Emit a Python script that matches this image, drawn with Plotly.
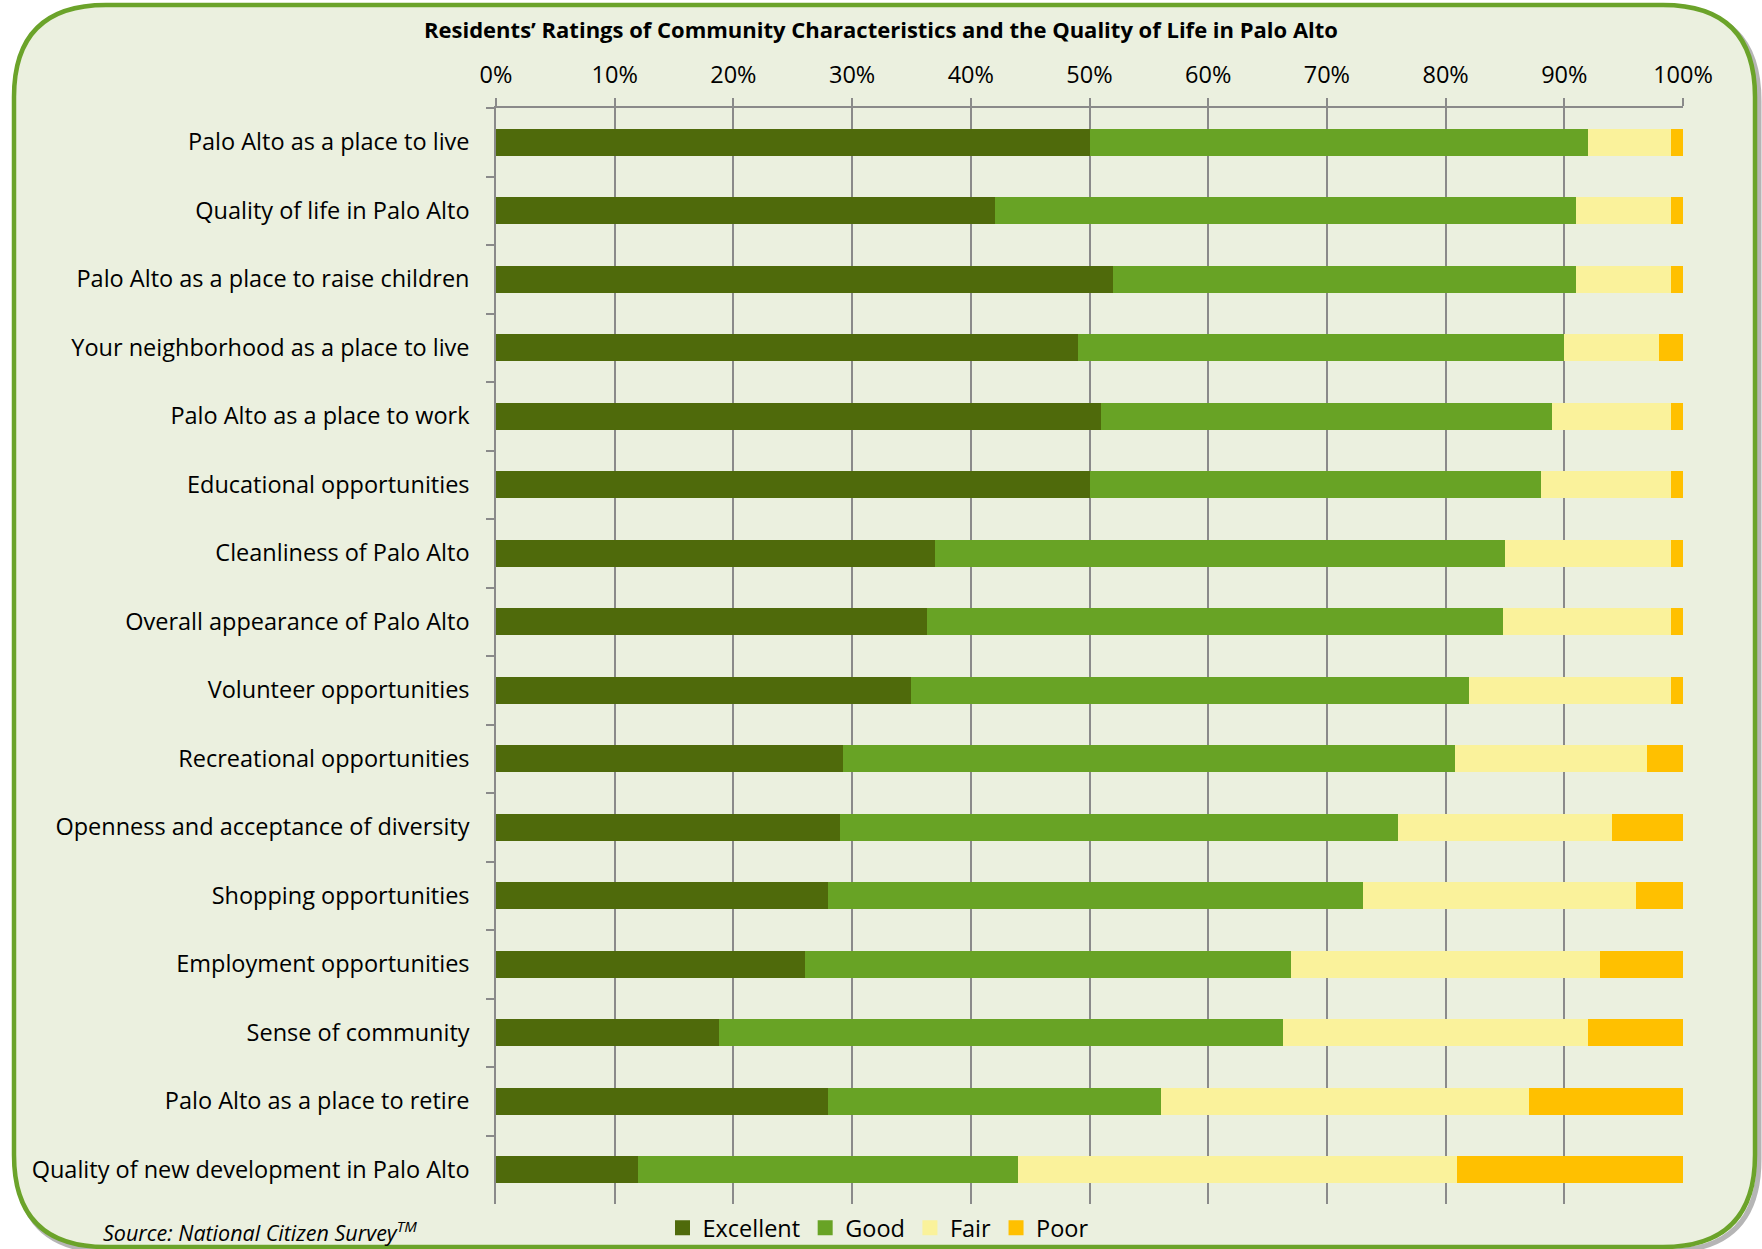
import plotly.graph_objects as go

categories = [
    "Palo Alto as a place to live",
    "Quality of life in Palo Alto",
    "Palo Alto as a place to raise children",
    "Your neighborhood as a place to live",
    "Palo Alto as a place to work",
    "Educational opportunities",
    "Cleanliness of Palo Alto",
    "Overall appearance of Palo Alto",
    "Volunteer opportunities",
    "Recreational opportunities",
    "Openness and acceptance of diversity",
    "Shopping opportunities",
    "Employment opportunities",
    "Sense of community",
    "Palo Alto as a place to retire",
    "Quality of new development in Palo Alto",
]
excellent = [50, 42, 52, 49, 51, 50, 37, 36.3, 35, 29.2, 29, 28, 26, 18.8, 28, 12]
good = [42, 49, 39, 41, 38, 38, 48, 48.5, 47, 51.6, 47, 45, 41, 47.5, 28, 32]
fair = [7, 8, 8, 8, 10, 11, 14, 14.2, 17, 16.2, 18, 23, 26, 25.7, 31, 37]
poor = [1, 1, 1, 2, 1, 1, 1, 1, 1, 3, 6, 4, 7, 8, 13, 19]
series_names = ["Excellent", "Good", "Fair", "Poor"]
series_colors = ["#4F6A0B", "#68A325", "#FAF29B", "#FFC000"]
x_ticks = list(range(0, 101, 10))
x_ticklabels = [f"{t}%" for t in x_ticks]

W, H = 1762, 1249
ML, MR, MT, MB = 496, 79, 108, 45
PW, PH = W - ML - MR, H - MT - MB

def px(x):
    return (x - ML) / PW

def py(y):
    return 1 - (y - MT) / PH

def rounded_path(x0, y0, x1, y1, r):
    pts = []
    pts.append(f"M {px(x0 + r)} {py(y0)}")
    pts.append(f"L {px(x1 - r)} {py(y0)}")
    pts.append(f"Q {px(x1)} {py(y0)} {px(x1)} {py(y0 + r)}")
    pts.append(f"L {px(x1)} {py(y1 - r)}")
    pts.append(f"Q {px(x1)} {py(y1)} {px(x1 - r)} {py(y1)}")
    pts.append(f"L {px(x0 + r)} {py(y1)}")
    pts.append(f"Q {px(x0)} {py(y1)} {px(x0)} {py(y1 - r)}")
    pts.append(f"L {px(x0)} {py(y0 + r)}")
    pts.append(f"Q {px(x0)} {py(y0)} {px(x0 + r)} {py(y0)}")
    pts.append("Z")
    return " ".join(pts)

fig = go.Figure()
for name, vals, col in zip(series_names, [excellent, good, fair, poor], series_colors):
    fig.add_trace(go.Bar(
        y=categories, x=vals, name=name, orientation="h",
        marker=dict(color=col, line=dict(width=0)),
        hoverinfo="x+y+name", legendgroup=name, showlegend=False,
    ))
# legend entries with larger square swatches
for name, col in zip(series_names, series_colors):
    fig.add_trace(go.Scatter(
        x=[None], y=[None], mode="markers", name=name, legendgroup=name,
        marker=dict(symbol="square", size=15, color=col, line=dict(width=0)),
        showlegend=True, hoverinfo="skip",
    ))

font_family = "Open Sans"
fig.update_layout(
    width=W, height=H,
    margin=dict(l=ML, r=MR, t=MT, b=MB, pad=0, autoexpand=False),
    barmode="stack", bargap=0.606,
    paper_bgcolor="white", plot_bgcolor="rgba(0,0,0,0)",
    font=dict(family=font_family, color="#000000"),
    title=dict(
        text="<b>Residents’ Ratings of Community Characteristics and the Quality of Life in Palo Alto</b>",
        x=0.5, xref="container", xanchor="center",
        y=1 - 30 / H, yref="container", yanchor="middle",
        font=dict(size=22, family=font_family, color="#000000"),
    ),
    xaxis=dict(
        side="top", range=[0, 100], tickvals=x_ticks, ticktext=x_ticklabels,
        showgrid=True, gridcolor="#8A8A8A", gridwidth=1.5,
        showline=True, linecolor="#8A8A8A", linewidth=1.5,
        ticks="outside", ticklen=8, tickcolor="#8A8A8A", tickwidth=1.5,
        tickfont=dict(size=23.5, family=font_family, color="#000000"),
        ticklabelstandoff=6, zeroline=False, fixedrange=True,
    ),
    yaxis=dict(
        autorange="reversed", categoryorder="array", categoryarray=categories,
        showgrid=False, showline=True, linecolor="#8A8A8A", linewidth=1.5,
        ticks="outside", ticklen=8, tickcolor="#8A8A8A", tickwidth=1.5,
        tickson="boundaries",
        tickfont=dict(size=23.5, family=font_family, color="#000000"),
        ticklabelstandoff=20, fixedrange=True,
    ),
    legend=dict(
        orientation="h", x=px(878), xanchor="center", y=py(1228), yanchor="middle",
        font=dict(size=23.5, family=font_family, color="#000000"),
        bgcolor="rgba(0,0,0,0)", traceorder="normal", itemwidth=30,
        itemclick=False, itemdoubleclick=False,
    ),
    showlegend=True,
)

# Shadow and rounded frame
fig.add_shape(type="path", xref="paper", yref="paper", layer="below",
              path=rounded_path(17, 9, 1759, 1251, 92),
              fillcolor="rgba(0,0,0,0)", line=dict(color="rgba(120,120,120,0.55)", width=5))
fig.add_shape(type="path", xref="paper", yref="paper", layer="below",
              path=rounded_path(14, 5, 1755, 1247, 92),
              fillcolor="#EBF0DF", line=dict(color="#6BA32A", width=4.5))

fig.add_annotation(
    text="<i>Source: National Citizen Survey<sup>TM</sup></i>",
    xref="paper", yref="paper", x=px(101), y=py(1231),
    xanchor="left", yanchor="middle", showarrow=False,
    font=dict(size=21.5, family=font_family, color="#000000"),
)

fig.write_html("out.html")
